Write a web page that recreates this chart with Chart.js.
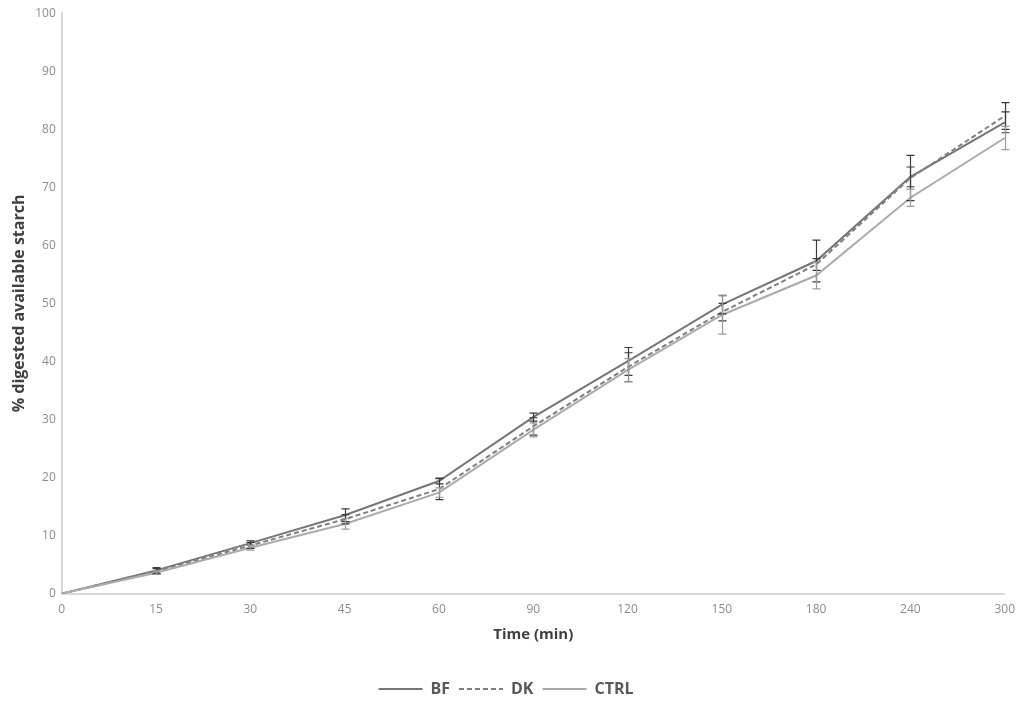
<!DOCTYPE html>
<html>
<head>
<meta charset="utf-8">
<script src="https://cdn.jsdelivr.net/npm/chart.js@4.4.1/dist/chart.umd.min.js"></script>
<style>
  html, body { margin: 0; padding: 0; background: #fff; }
  #wrap { width: 1024px; height: 703px; }
</style>
</head>
<body>
<div id="wrap"><canvas id="chart" width="1024" height="703"></canvas></div>
<script>
// Tiempos de muestreo (eje de categorías)
const times = ["0", "15", "30", "45", "60", "90", "120", "150", "180", "240", "300"];

// % de almidón digerido por serie
const bfValues = [0, 4.0, 8.7, 13.5, 19.4, 30.4, 40.0, 49.8, 57.3, 71.8, 81.2];
const dkValues = [0, 3.8, 8.3, 12.8, 18.0, 28.8, 39.0, 48.5, 56.7, 71.6, 82.3];
const ctrlValues = [0, 3.6, 7.9, 12.0, 17.4, 28.2, 38.5, 48.0, 54.8, 68.2, 78.5];

// Barras de error (desviación)
const bfErrors = [0, 0.5, 0.4, 1.1, 0.5, 0.7, 2.4, 1.6, 3.6, 1.7, 1.8];
const dkErrors = [0, 0.5, 0.5, 0.8, 1.8, 1.5, 2.5, 1.5, 1.0, 3.9, 2.3];
const ctrlErrors = [0, 0.3, 0.4, 0.9, 0.8, 1.2, 2.0, 3.3, 2.3, 1.5, 2.0];

const font = "'Open Sans', 'Liberation Sans', sans-serif";

// Plugin sencillo para dibujar las barras de error
const errorBars = {
  id: "errorBars",
  afterDatasetsDraw(chart) {
    const ctx = chart.ctx;
    const y = chart.scales.y;
    chart.data.datasets.forEach((ds, i) => {
      const meta = chart.getDatasetMeta(i);
      if (!ds.errors) return;
      ctx.save();
      ctx.strokeStyle = ds.errorColor;
      ctx.lineWidth = 1.2;
      ctx.setLineDash([]);
      meta.data.forEach((pt, j) => {
        const e = ds.errors[j];
        if (!e) return;
        const v = ds.data[j];
        const top = y.getPixelForValue(v + e);
        const bot = y.getPixelForValue(v - e);
        const x = Math.round(pt.x) + 0.5;
        ctx.beginPath();
        ctx.moveTo(x, top);
        ctx.lineTo(x, bot);
        ctx.moveTo(x - 4, top);
        ctx.lineTo(x + 4, top);
        ctx.moveTo(x - 4, bot);
        ctx.lineTo(x + 4, bot);
        ctx.stroke();
      });
      ctx.restore();
    });
  }
};

new Chart(document.getElementById("chart"), {
  type: "line",
  plugins: [errorBars],
  data: {
    labels: times,
    datasets: [
      {
        label: "BF",
        data: bfValues,
        errors: bfErrors,
        errorColor: "#3a3a3a",
        borderColor: "#767676",
        borderWidth: 2,
        pointRadius: 0,
        order: 3
      },
      {
        label: "DK",
        data: dkValues,
        errors: dkErrors,
        errorColor: "#3a3a3a",
        borderColor: "#7f7f7f",
        borderWidth: 2,
        borderDash: [5, 3],
        pointRadius: 0,
        order: 2
      },
      {
        label: "CTRL",
        data: ctrlValues,
        errors: ctrlErrors,
        errorColor: "#9a9a9a",
        borderColor: "#ababab",
        borderWidth: 2,
        pointRadius: 0,
        order: 1
      }
    ]
  },
  options: {
    responsive: false,
    animation: false,
    layout: { padding: { top: 7, right: 18, bottom: -4, left: 6 } },
    plugins: {
      tooltip: { enabled: false },
      legend: {
        position: "bottom",
        labels: {
          usePointStyle: true,
          pointStyle: "line",
          pointStyleWidth: 44,
          boxHeight: 2,
          color: "#595959",
          padding: 9,
          font: { family: font, size: 16, weight: "bold" },
          generateLabels(chart) {
            return chart.data.datasets.map((ds, i) => ({
              text: ds.label,
              strokeStyle: ds.borderColor,
              fillStyle: ds.borderColor,
              lineWidth: 2,
              lineDash: ds.borderDash || [],
              pointStyle: "line",
              fontColor: "#595959",
              datasetIndex: i
            }));
          }
        }
      }
    },
    scales: {
      x: {
        offset: false,
        grid: { display: false, drawTicks: false },
        border: { color: "#d9d9d9", width: 2 },
        ticks: { color: "#8c8c8c", padding: 9, font: { family: font, size: 12 } },
        title: {
          display: true,
          text: "Time (min)",
          color: "#404040",
          padding: { top: 0, bottom: 28 },
          font: { family: font, size: 15, weight: "bold" }
        }
      },
      y: {
        min: 0,
        max: 100,
        grid: { display: false, drawTicks: false },
        border: { color: "#d9d9d9", width: 2 },
        ticks: { stepSize: 10, color: "#8c8c8c", padding: 6, font: { family: font, size: 12 } },
        title: {
          display: true,
          text: "% digested available starch",
          color: "#404040",
          padding: { bottom: 0 },
          font: { family: font, size: 16, weight: "bold" }
        }
      }
    }
  }
});
</script>
</body>
</html>
